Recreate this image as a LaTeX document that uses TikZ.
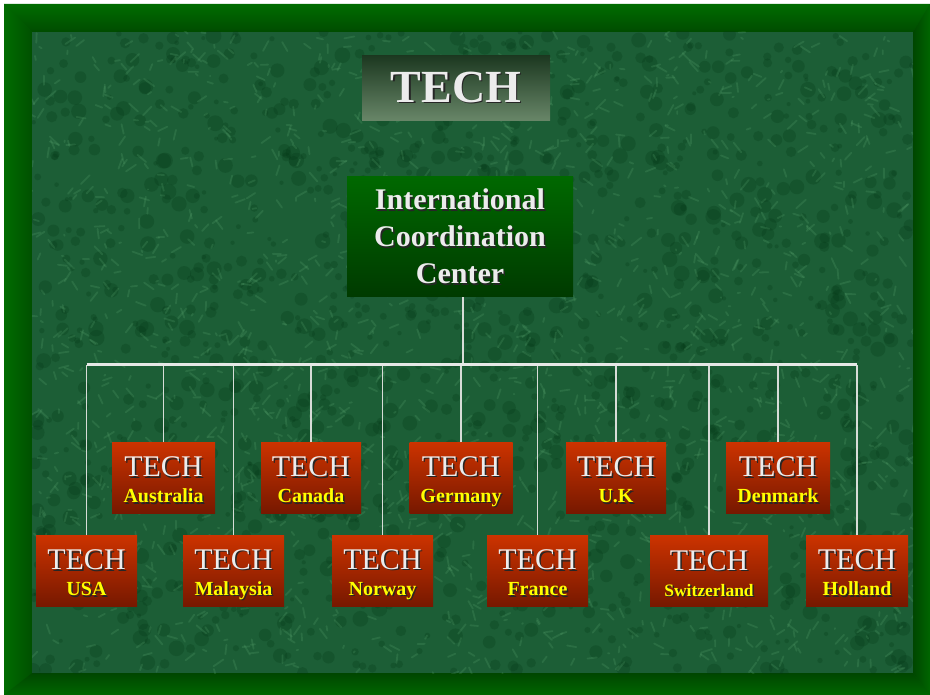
\documentclass[tikz,border=0pt]{standalone}
\usepackage{fontspec}
\setmainfont{Liberation Serif}
\usepackage{xcolor}
\usepackage{tikz}
\usetikzlibrary{calc, positioning}

\definecolor{framegreen}{RGB}{0,100,0}
\definecolor{marble}{RGB}{28,94,54}
\definecolor{marbledark}{RGB}{4,56,22}
\definecolor{marblelight}{RGB}{100,176,120}
\definecolor{techred}{RGB}{204,51,0}
\definecolor{techdark}{RGB}{118,24,0}
\definecolor{techyellow}{RGB}{255,255,0}
\definecolor{techwhite}{RGB}{236,236,236}

% 带阴影的文字
\newcommand{\embossed}[2]{\leavevmode\rlap{\kern1.5pt\raisebox{-1.5pt}{\color{black!85}#2}}{\color{#1}#2}}
% 方框文字
\newcommand{\techbox}[2][20]{\rule{0pt}{28pt}\embossed{techwhite}{TECH}\\{\fontsize{#1}{26}\selectfont\bfseries\embossed{techyellow}{#2}\vphantom{Ay}}}

\begin{document}
\begin{tikzpicture}[
    x=1pt, y=-1pt,
    titlebox/.style={rectangle, top color={rgb,255:red,28;green,56;blue,32}, bottom color={rgb,255:red,104;green,134;blue,104}, minimum width=188pt, minimum height=65pt, inner sep=0pt, font=\fontsize{46}{46}\selectfont\bfseries},
    hub/.style={rectangle, top color={rgb,255:red,0;green,104;blue,0}, bottom color={rgb,255:red,0;green,58;blue,0}, minimum width=226pt, minimum height=120pt, inner sep=0pt, align=center, font=\fontsize{30}{37}\selectfont\bfseries},
    branch/.style={rectangle, top color=techred, bottom color=techdark, minimum width=101pt, minimum height=71pt, inner sep=0pt, align=center, font=\fontsize{30}{26}\selectfont},
    link/.style={draw={rgb,255:red,215;green,220;blue,215}, line width=1.3pt},
    bus/.style={draw={rgb,255:red,230;green,232;blue,230}, line width=3pt}
]
\useasboundingbox (0,0) rectangle (930,695);

% 边框
\fill[framegreen] (4,4) rectangle (930,695);
\shade[top color={rgb,255:red,0;green,108;blue,0}, bottom color={rgb,255:red,0;green,76;blue,0}] (4,4) -- (930,4) -- (913,32) -- (32,32) -- cycle;
\shade[left color={rgb,255:red,0;green,108;blue,0}, right color={rgb,255:red,0;green,80;blue,0}] (4,4) -- (32,32) -- (32,673) -- (4,695) -- cycle;
\shade[left color={rgb,255:red,0;green,70;blue,0}, right color={rgb,255:red,0;green,102;blue,0}] (930,4) -- (930,695) -- (913,673) -- (913,32) -- cycle;
\shade[top color={rgb,255:red,0;green,70;blue,0}, bottom color={rgb,255:red,0;green,102;blue,0}] (4,695) -- (930,695) -- (913,673) -- (32,673) -- cycle;

% 大理石背景
\fill[marble] (32,32) rectangle (913,673);
\begin{scope}
\clip (32,32) rectangle (913,673);
\pgfmathsetseed{11}
\foreach \k in {1,...,1400}{
  \pgfmathsetmacro\px{32+881*rnd}
  \pgfmathsetmacro\py{32+641*rnd}
  \pgfmathsetmacro\pr{2+6*rnd}
  \fill[marbledark, opacity=0.25] (\px,\py) circle (\pr);
}
\foreach \k in {1,...,1800}{
  \pgfmathsetmacro\px{32+881*rnd}
  \pgfmathsetmacro\py{32+641*rnd}
  \draw[marblelight, opacity=0.2, line width=1.8pt, line cap=round] (\px,\py) -- ++(10*rand,10*rand);
}
\end{scope}

% 标题与中心
\node[titlebox] (title) at (456,88) {\embossed{techwhite}{TECH}};
\node[hub] (icc) at (460,237) {\embossed{techwhite}{International}\\\embossed{techwhite}{Coordination}\\\embossed{techwhite}{Center}};

% 上排
\node[branch, minimum width=103pt] (aus) at (163.5,478) {\techbox{Australia}};
\node[branch, minimum width=100pt] (can) at (311,478) {\techbox{Canada}};
\node[branch, minimum width=103pt] (ger) at (461,478) {\techbox{Germany}};
\node[branch, minimum width=100pt] (uk) at (616,478) {\techbox{U.K}};
\node[branch, minimum width=104pt] (den) at (778,478) {\techbox{Denmark}};

% 下排
\node[branch] (usa) at (86.5,571) {\techbox{USA}};
\node[branch] (mal) at (233.5,571) {\techbox{Malaysia}};
\node[branch] (nor) at (382.5,571) {\techbox{Norway}};
\node[branch] (fra) at (537.5,571) {\techbox{France}};
\node[branch, minimum width=118pt] (swi) at (709,571) {\techbox[17.5]{Switzerland}};
\node[branch, minimum width=102pt] (hol) at (857,571) {\techbox{Holland}};

% 连接线
\coordinate (bus) at (463,365);
\draw[link] (icc.south -| bus) -- (bus);
\draw[link] (usa.north) -- (usa.north |- bus);
\draw[link] (aus.north) -- (aus.north |- bus);
\draw[link] (mal.north) -- (mal.north |- bus);
\draw[link] (can.north) -- (can.north |- bus);
\draw[link] (nor.north) -- (nor.north |- bus);
\draw[link] (ger.north) -- (ger.north |- bus);
\draw[link] (fra.north) -- (fra.north |- bus);
\draw[link] (uk.north) -- (uk.north |- bus);
\draw[link] (swi.north) -- (swi.north |- bus);
\draw[link] (den.north) -- (den.north |- bus);
\draw[link] (hol.north) -- (hol.north |- bus);
\draw[bus] (bus -| usa.north) -- (bus -| hol.north);

\end{tikzpicture}
\end{document}
